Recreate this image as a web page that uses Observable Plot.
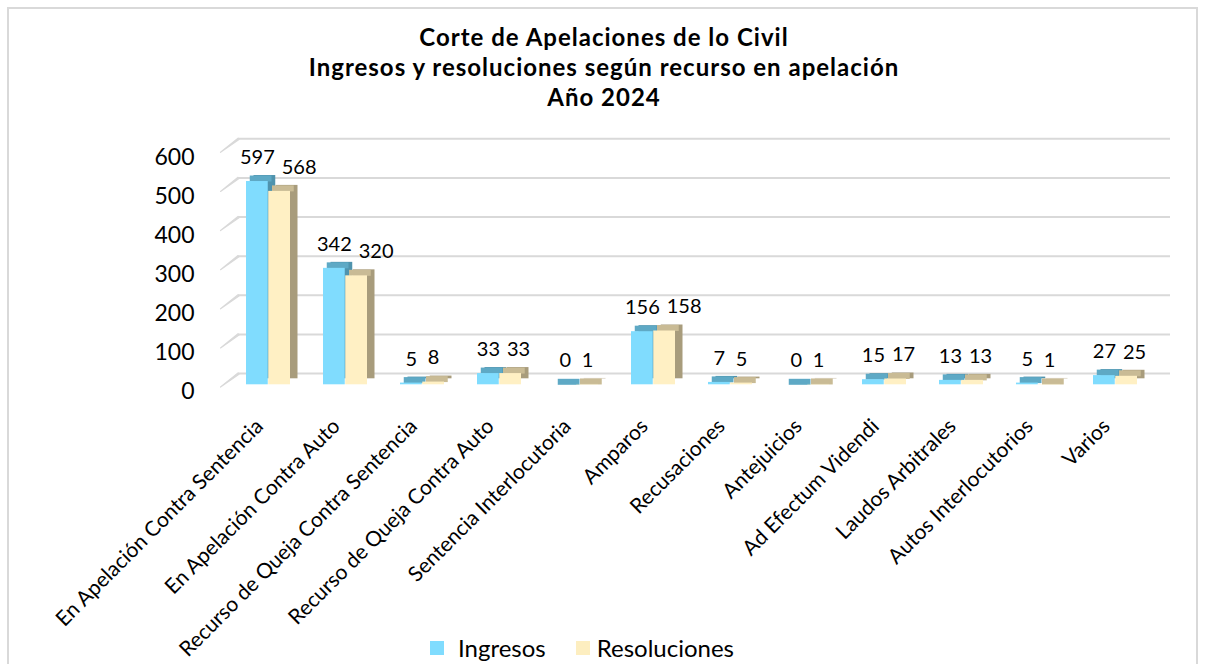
<!DOCTYPE html>
<html>
<head>
<meta charset="utf-8">
<script src="https://cdn.jsdelivr.net/npm/d3@7"></script>
<script src="https://cdn.jsdelivr.net/npm/@observablehq/plot@0.6"></script>
<style>
  html, body { margin: 0; padding: 0; background: #fff; }
  body { font-family: Lato, "Open Sans", sans-serif; color: #000; }
  #wrap { position: relative; width: 1208px; height: 664px; overflow: hidden; }
  #frame { position: absolute; left: 7px; top: 7px; width: 1191px; height: 720px; border: 2px solid #d9d9d9; box-sizing: border-box; }
  #title { position: absolute; top: 22px; left: 0; width: 1208px; text-align: center; font-weight: 700; font-size: 24px; line-height: 30px; letter-spacing: 1px; }
  #chart { position: absolute; top: 112px; left: 0; width: 1208px; height: 520px; }
  #chart svg { position: absolute; top: 0; left: 0; overflow: visible; background: transparent; }
  #legend { position: absolute; top: 634px; left: 430px; height: 28px; display: flex; align-items: center; font-size: 24px; line-height: 28px; }
  #legend .sw { width: 14px; height: 14px; display: inline-block; }
</style>
</head>
<body>
<div id="wrap">
  <div id="frame"></div>
  <div id="title">Corte de Apelaciones de lo Civil<br>Ingresos y resoluciones según recurso en apelación<br>Año 2024</div>
  <div id="chart"></div>
  <div id="legend"></div>
</div>
<script>
// ---- Data ----
const categorias = [
  "En Apelación Contra Sentencia",
  "En Apelación Contra Auto",
  "Recurso de Queja Contra Sentencia",
  "Recurso de Queja Contra Auto",
  "Sentencia Interlocutoria",
  "Amparos",
  "Recusaciones",
  "Antejuicios",
  "Ad Efectum Videndi",
  "Laudos Arbitrales",
  "Autos Interlocutorios",
  "Varios"
];
const ingresos     = [597, 342, 5, 33, 0, 156, 7, 0, 15, 13, 5, 27];
const resoluciones = [568, 320, 8, 33, 1, 158, 5, 1, 17, 13, 1, 25];
const series = ["Ingresos", "Resoluciones"];
const yTicks = [0, 100, 200, 300, 400, 500, 600];

// ---- Styles ----
const frontColor = ["#80dcfe", "#fff0c4"];
const topColor   = ["#5ea9c5", "#c9bb95"];
const sideColor  = ["#4f93ad", "#a89c7c"];
const gridColor  = "#d9d9d9";
const FONT = 'Lato, "Open Sans", sans-serif';

const W = 1208, H = 520;
const depthX = 7.5, depthY = 6;

// x band layout
const xRange = [202.85, 1179.75];
const padIn = 0.4273, padOut = 0.5;
const step = (xRange[1] - xRange[0]) / (categorias.length - padIn + 2 * padOut);
const bw = step * (1 - padIn);
const half = bw / 2;

const table = series.map((s, k) => categorias.map((c, i) => ({
  cat: c, serie: s, valor: (k === 0 ? ingresos : resoluciones)[i]
})));

// ---- Back wall (gridlines + y labels) ----
const back = Plot.plot({
  width: W, height: H,
  marginLeft: 238, marginRight: 38, marginTop: 0, marginBottom: 0,
  style: {background: "transparent", overflow: "visible", fontFamily: FONT},
  y: {domain: [0, 600], range: [261, 26.3], axis: null},
  marks: [
    Plot.ruleY(yTicks, {y: d => d, stroke: gridColor, strokeWidth: 2}),
    Plot.vector(yTicks, {y: d => d, frameAnchor: "left", length: 22.5, rotate: 233, anchor: "start",
      shape: "spike", r: 0.8, fill: gridColor, stroke: gridColor, strokeWidth: 1.2}),
    Plot.text(yTicks, {y: d => d, frameAnchor: "left", dx: -44, dy: 18.5, textAnchor: "end",
      text: d => String(d), fontSize: 23, fill: "#000"})
  ]
});

// ---- Label collision: measure texts ----
const ctx = document.createElement("canvas").getContext("2d");
ctx.font = "20px Lato";
const tw = t => ctx.measureText(t).width;
const gap = 7;
const shiftRes = categorias.map((c, i) => {
  const a = String(ingresos[i]), b = String(resoluciones[i]);
  const need = tw(a) / 2 + tw(b) / 2 + gap - half;
  return Math.max(0, need);
});

const labelMarks = [];
table.forEach((rows, k) => {
  rows.forEach((d, i) => {
    const dx = k === 0 ? -half / 2 : half / 2 + shiftRes[i];
    labelMarks.push(Plot.text([d], {x: "cat", y: "valor", text: d => String(d.valor),
      dx, dy: -24, fontSize: 20, fill: "#000"}));
  });
});

const barMarks = [];
table.forEach((rows, k) => {
  const ins = k === 0 ? {insetRight: half} : {insetLeft: half};
  barMarks.push(
    Plot.barY(rows, {x: "cat", y: "valor", fill: sideColor[k], dx: depthX, dy: -depthY, ...ins}),
    Plot.tickY(rows, {x: "cat", y: "valor", stroke: topColor[k], strokeWidth: depthY,
      dx: depthX / 2, dy: -depthY / 2, ...ins}),
    Plot.barY(rows, {x: "cat", y: "valor", fill: frontColor[k], ...ins})
  );
});

const front = Plot.plot({
  width: W, height: H,
  marginLeft: 0, marginRight: 0, marginTop: 0, marginBottom: 0,
  style: {background: "transparent", overflow: "visible", fontFamily: FONT},
  x: {domain: categorias, range: xRange, paddingInner: padIn, paddingOuter: padOut, axis: null},
  y: {domain: [0, 600], range: [272.3, 68], axis: null},
  marks: [
    ...barMarks,
    ...labelMarks,
    Plot.text(categorias, {x: d => d, y: () => 0, dx: -9, dy: 38, rotate: -45, textAnchor: "end",
      text: d => d, fontSize: 21, fill: "#000"})
  ]
});

const chart = document.getElementById("chart");
chart.appendChild(back);
chart.appendChild(front);

// ---- Legend ----
const legend = document.getElementById("legend");
series.forEach((s, k) => {
  const sw = document.createElement("span");
  sw.className = "sw";
  sw.style.background = frontColor[k] === "#fff0c4" ? "#fdeec0" : frontColor[k];
  sw.style.marginRight = k === 0 ? "14px" : "7px";
  const t = document.createElement("span");
  t.textContent = s;
  t.style.marginRight = k === 0 ? "30px" : "0";
  legend.appendChild(sw);
  legend.appendChild(t);
});
</script>
</body>
</html>
